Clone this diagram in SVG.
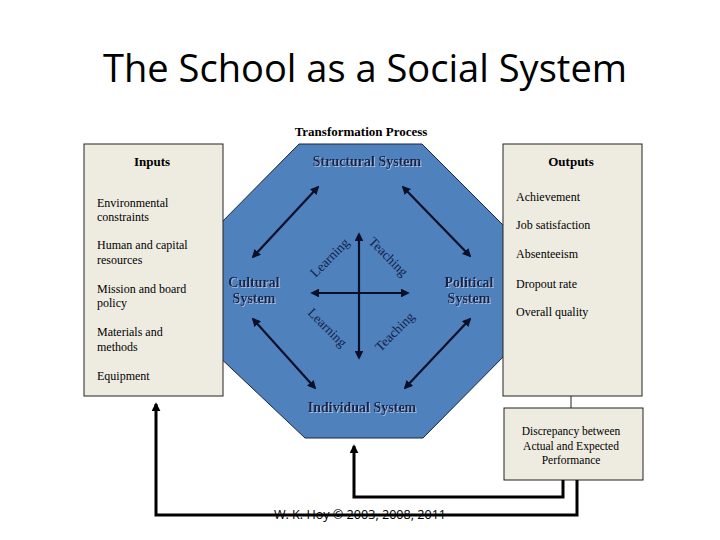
<svg xmlns="http://www.w3.org/2000/svg" width="720" height="540" viewBox="0 0 720 540">
<style>
.title{font-family:"Open Sans","Liberation Sans",sans-serif;font-size:38px;fill:#000}
.hdr{font-family:"Liberation Serif",serif;font-weight:bold;font-size:13px;fill:#000;text-anchor:middle}
.sys{font-family:"Liberation Serif",serif;font-weight:bold;font-size:14px;fill:#14224a;text-anchor:middle;filter:url(#glow)}
.item{font-family:"Liberation Serif",serif;font-size:12px;fill:#000}
.rot{font-family:"Liberation Serif",serif;font-size:13.5px;fill:#14224a;text-anchor:middle}
.disc{font-family:"Liberation Serif",serif;font-size:11.5px;fill:#000;text-anchor:middle}
.box{fill:#eeece1;stroke:#222;stroke-width:1}
.conn{fill:none;stroke:#000;stroke-width:3}
.inner{fill:none;stroke:#0a0f2a;stroke-width:2.2}
.thin{fill:none;stroke:#222;stroke-width:1}
.copy{font-family:"Open Sans","Liberation Sans",sans-serif;font-size:12.6px;fill:#000;text-anchor:middle}
</style>
<defs>
<marker id="ah" viewBox="0 0 10 10" refX="8" refY="5" markerWidth="4" markerHeight="4" orient="auto-start-reverse" markerUnits="strokeWidth">
<path d="M0,0 L10,5 L0,10 z" fill="#0a0f2a"/>
</marker>
<marker id="fb" viewBox="0 0 10 10" refX="8" refY="5" markerWidth="3" markerHeight="3" orient="auto" markerUnits="strokeWidth">
<path d="M0,0 L10,5 L0,10 z" fill="#000"/>
</marker>
<filter id="glow" x="-10%" y="-30%" width="120%" height="160%">
<feDropShadow dx="1" dy="1" stdDeviation="0" flood-color="#c8d4e8" flood-opacity="0.7"/>
</filter>
</defs>

<text class="title" x="365" y="82" text-anchor="middle" textLength="524" lengthAdjust="spacingAndGlyphs">The School as a Social System</text>
<text class="hdr" x="361" y="136">Transformation Process</text>

<g id="octagon">
<polygon points="299,144 422,144 508,230 508,352 423,438 305,438 214,352 214,230" fill="#4f81bd" stroke="#1a2440" stroke-width="1"/>
<text class="sys" x="367" y="166">Structural System</text>
<text class="sys" x="254" y="287">Cultural</text>
<text class="sys" x="254" y="303">System</text>
<text class="sys" x="469" y="287">Political</text>
<text class="sys" x="469" y="303">System</text>
<text class="sys" x="362" y="412">Individual System</text>
</g>

<g id="inputs">
<rect class="box" x="84" y="144" width="139" height="252"/>
<text class="hdr" x="152" y="166">Inputs</text>
<text class="item" x="97" y="207">Environmental</text>
<text class="item" x="97" y="221">constraints</text>
<text class="item" x="97" y="249">Human and capital</text>
<text class="item" x="97" y="264">resources</text>
<text class="item" x="97" y="293">Mission and board</text>
<text class="item" x="97" y="307">policy</text>
<text class="item" x="97" y="336">Materials and</text>
<text class="item" x="97" y="351">methods</text>
<text class="item" x="97" y="380">Equipment</text>
</g>

<g id="outputs">
<rect class="box" x="503" y="144" width="139" height="252"/>
<text class="hdr" x="571" y="166">Outputs</text>
<text class="item" x="516" y="201">Achievement</text>
<text class="item" x="516" y="229">Job satisfaction</text>
<text class="item" x="516" y="258">Absenteeism</text>
<text class="item" x="516" y="288">Dropout rate</text>
<text class="item" x="516" y="316">Overall quality</text>
</g>

<g id="discrepancy">
<rect class="box" x="504" y="408" width="139" height="72"/>
<text class="disc" x="571" y="435">Discrepancy between</text>
<text class="disc" x="571" y="450">Actual and Expected</text>
<text class="disc" x="571" y="464">Performance</text>
</g>

<g id="labels">
<text class="rot" transform="translate(330,258) rotate(-45)" y="4">Learning</text>
<text class="rot" transform="translate(388,257) rotate(45)" y="4">Teaching</text>
<text class="rot" transform="translate(327,328) rotate(45)" y="4">Learning</text>
<text class="rot" transform="translate(395,332) rotate(-45)" y="4">Teaching</text>
</g>

<g id="connectors">
<line class="inner" x1="253" y1="257" x2="318" y2="187" marker-start="url(#ah)" marker-end="url(#ah)"/>
<line class="inner" x1="403" y1="187" x2="470" y2="256" marker-start="url(#ah)" marker-end="url(#ah)"/>
<line class="inner" x1="253" y1="319" x2="315" y2="388" marker-start="url(#ah)" marker-end="url(#ah)"/>
<line class="inner" x1="470" y1="319" x2="405" y2="388" marker-start="url(#ah)" marker-end="url(#ah)"/>
<line class="inner" x1="359" y1="234" x2="359" y2="358" marker-start="url(#ah)" marker-end="url(#ah)"/>
<line class="inner" x1="312" y1="293" x2="408" y2="293" marker-start="url(#ah)" marker-end="url(#ah)"/>
<line class="thin" x1="571" y1="396" x2="571" y2="408"/>
<polyline class="conn" points="563,480 563,497 354,497 354,446" marker-end="url(#fb)"/>
<polyline class="conn" points="577,480 577,515 156,515 156,404" marker-end="url(#fb)"/>
</g>

<text class="copy" x="360" y="519">W. K. Hoy © 2003, 2008, 2011</text>
</svg>
